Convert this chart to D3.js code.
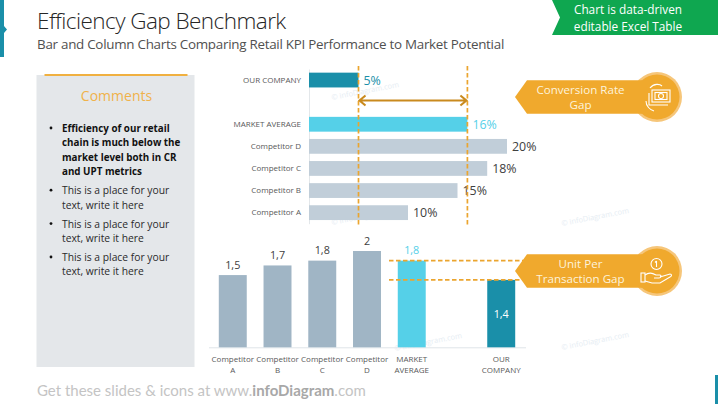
<!DOCTYPE html>
<html>
<head>
<meta charset="utf-8">
<script src="https://cdn.jsdelivr.net/npm/d3@7"></script>
<style>
  html, body { margin: 0; padding: 0; background: #fff; }
  svg { display: block; }
  text { font-family: "Open Sans", sans-serif; }
</style>
</head>
<body>
<div id="chart"></div>
<script>
// conversion rate chart
const crCategories = ["OUR COMPANY", "MARKET AVERAGE", "Competitor D", "Competitor C", "Competitor B", "Competitor A"];
const crValues = [5, 16, 20, 18, 15, 10];

// units per transaction chart
const uptCategories = ["Competitor A", "Competitor B", "Competitor C", "Competitor D", "MARKET AVERAGE", "OUR COMPANY"];
const uptValues = [1.5, 1.7, 1.8, 2, 1.8, 1.4];

const commentItems = [
    {bold: true, lines: ["Efficiency of our retail", "chain is much below the", "market level both in CR", "and UPT metrics"]},
    {bold: false, lines: ["This is a place for your", "text, write it here"]},
    {bold: false, lines: ["This is a place for your", "text, write it here"]},
    {bold: false, lines: ["This is a place for your", "text, write it here"]}
];

const TEAL = "#1a8fa9", CYAN = "#55d0e8", ORANGE = "#f0a92d", DASH = "#eba52f";
const GAP = "__gap";

function barColor(name, other) {
    if (name === "OUR COMPANY") return TEAL;
    if (name === "MARKET AVERAGE") return CYAN;
    return other;
}

const svg = d3.select("#chart").append("svg")
    .attr("width", 718)
    .attr("height", 404);

// slide furniture
svg.append("path").attr("d", "M0,0H4V26L7,29.5L4,33V57H0Z").attr("fill", "#1a8fa9");
svg.append("rect").attr("x", 715).attr("y", 375).attr("width", 3).attr("height", 29).attr("fill", TEAL);

svg.append("text").attr("x", 37).attr("y", 28.5)
    .attr("font-size", 22.5).attr("font-weight", 300).attr("fill", "#262626")
    .attr("letter-spacing", -0.55)
    .text("Efficiency Gap Benchmark");
svg.append("text").attr("x", 37).attr("y", 48.5)
    .attr("font-size", 13.4).attr("fill", "#505050")
    .attr("letter-spacing", -0.27)
    .text("Bar and Column Charts Comparing Retail KPI Performance to Market Potential");

svg.append("path").attr("d", "M552,0H718V35H552L560,17.5Z").attr("fill", "#0fa750");
svg.append("text").attr("x", 628).attr("y", 14).attr("text-anchor", "middle")
    .attr("font-size", 11.8).attr("fill", "#fff").text("Chart is data-driven");
svg.append("text").attr("x", 628).attr("y", 30.5).attr("text-anchor", "middle")
    .attr("font-size", 11.8).attr("fill", "#fff").text("editable Excel Table");

// watermarks
[[332, 100], [332, 225], [562, 226], [395, 351], [562, 350]].forEach(p => {
    svg.append("text")
        .attr("transform", `translate(${p[0]},${p[1]}) rotate(-11)`)
        .attr("font-size", 7.5).attr("fill", "#e6edf3")
        .text("© infoDiagram.com");
});

// comments panel
svg.append("rect").attr("x", 36.5).attr("y", 75).attr("width", 158).attr("height", 292).attr("fill", "#e4e7ea");
svg.append("rect").attr("x", 44.5).attr("y", 74).attr("width", 143).attr("height", 2).attr("fill", "#f0b040");
svg.append("text").attr("x", 116.5).attr("y", 101).attr("text-anchor", "middle")
    .attr("font-size", 14).attr("fill", "#f0b24a").text("Comments");

let lineY = 132;
commentItems.forEach(item => {
    svg.append("circle").attr("cx", 51).attr("cy", lineY - 4).attr("r", 1.4).attr("fill", "#111");
    item.lines.forEach(l => {
        svg.append("text").attr("x", 62).attr("y", lineY)
            .attr("font-size", item.bold ? 9.8 : 10.3).attr("font-weight", item.bold ? 700 : 400)
            .attr("fill", item.bold ? "#111" : "#2a2a2a")
            .text(l);
        lineY += 14.4;
    });
    lineY += 4.6;
});

// horizontal bars
const crX = d3.scaleLinear().domain([0, 20]).range([309, 507]);
const crDomain = [crCategories[0], GAP].concat(crCategories.slice(1));
const crY = d3.scaleBand().domain(crDomain).range([69, 223.7]).paddingInner(0.33).paddingOuter(0.165);

const crAxis = svg.append("g")
    .attr("transform", "translate(309,0)")
    .call(d3.axisLeft(crY).tickSize(0).tickPadding(8).tickFormat(d => d === GAP ? "" : d));
crAxis.select(".domain").attr("stroke", "#e3e7ea");
crAxis.selectAll("text").attr("font-size", 8).attr("fill", "#595959").attr("font-family", '"Open Sans", sans-serif');

svg.append("g").selectAll("rect")
    .data(crCategories)
    .join("rect")
    .attr("x", crX(0))
    .attr("y", d => crY(d))
    .attr("width", (d, i) => crX(crValues[i]) - crX(0))
    .attr("height", crY.bandwidth())
    .attr("fill", d => barColor(d, "#c1ced9"));

svg.append("g").selectAll("text")
    .data(crCategories)
    .join("text")
    .attr("x", (d, i) => crX(crValues[i]) + 5)
    .attr("y", d => crY(d) + crY.bandwidth() / 2 + 4.5)
    .attr("font-size", 12.4)
    .attr("fill", d => barColor(d, "#404040"))
    .text((d, i) => crValues[i] + "%");

// gap markers on the bars
const ourCr = crValues[crCategories.indexOf("OUR COMPANY")];
const marketCr = crValues[crCategories.indexOf("MARKET AVERAGE")];
[ourCr, marketCr].forEach(v => {
    svg.append("line")
        .attr("x1", crX(v)).attr("x2", crX(v))
        .attr("y1", 66).attr("y2", 227)
        .attr("stroke", DASH).attr("stroke-width", 1.7).attr("stroke-dasharray", "4.5,2.5");
});
const arrowY = 100.5;
svg.append("path")
    .attr("d", `M${crX(ourCr) + 1},${arrowY}H${crX(marketCr) - 1}`
        + `M${crX(ourCr) + 7},${arrowY - 5}L${crX(ourCr) + 1},${arrowY}L${crX(ourCr) + 7},${arrowY + 5}`
        + `M${crX(marketCr) - 7},${arrowY - 5}L${crX(marketCr) - 1},${arrowY}L${crX(marketCr) - 7},${arrowY + 5}`)
    .attr("fill", "none").attr("stroke", "#c98a1e").attr("stroke-width", 2.1);

// columns
const uptDomain = uptCategories.slice(0, 5).concat([GAP, uptCategories[5]]);
const uptX = d3.scaleBand().domain(uptDomain).range([208.5, 525.5]).paddingInner(0.375).paddingOuter(0.23);
const uptY = d3.scaleLinear().domain([0, 2]).range([347.3, 251]);
const commaFormat = v => String(v).replace(".", ",");

const uptAxis = svg.append("g")
    .attr("transform", "translate(0,347.3)")
    .call(d3.axisBottom(uptX).tickSize(0).tickFormat(""));
uptAxis.select(".domain").attr("stroke", "#dfe4e8");
uptAxis.selectAll(".tick").each(function(d) {
    if (d === GAP) return;
    const words = d.split(" ");
    const t = d3.select(this).append("text")
        .attr("text-anchor", "middle")
        .attr("font-size", 8)
        .attr("fill", "#595959");
    words.forEach((w, i) => {
        t.append("tspan").attr("x", 0).attr("y", 14.7 + i * 10.8).text(w);
    });
});

svg.append("g").selectAll("rect")
    .data(uptCategories)
    .join("rect")
    .attr("x", d => uptX(d))
    .attr("y", (d, i) => uptY(uptValues[i]))
    .attr("width", uptX.bandwidth())
    .attr("height", (d, i) => uptY(0) - uptY(uptValues[i]))
    .attr("fill", d => barColor(d, "#a0b5c5"));

svg.append("g").selectAll("text")
    .data(uptCategories)
    .join("text")
    .attr("x", d => uptX(d) + uptX.bandwidth() / 2)
    .attr("y", (d, i) => d === "OUR COMPANY" ? 318 : uptY(uptValues[i]) - 6.5)
    .attr("text-anchor", "middle")
    .attr("font-size", 10.8)
    .attr("fill", d => d === "OUR COMPANY" ? "#fff" : barColor(d, "#404040"))
    .text((d, i) => commaFormat(uptValues[i]));

const ourUpt = uptValues[uptCategories.indexOf("OUR COMPANY")];
const marketUpt = uptValues[uptCategories.indexOf("MARKET AVERAGE")];
[ourUpt, marketUpt].forEach(v => {
    svg.append("line")
        .attr("x1", 389).attr("x2", 524)
        .attr("y1", uptY(v)).attr("y2", uptY(v))
        .attr("stroke", DASH).attr("stroke-width", 1.7).attr("stroke-dasharray", "4.5,2.5");
});

// callouts
function callout(cy, lines) {
    const g = svg.append("g").attr("transform", `translate(0,${cy})`);
    g.append("circle").attr("cx", 657).attr("r", 25).attr("fill", "#f6c67a");
    g.append("circle").attr("cx", 657).attr("r", 22.5).attr("fill", ORANGE);
    g.append("path").attr("d", "M515,0L527,-16.8H642V16.8H527Z").attr("fill", ORANGE);
    lines.forEach((l, i) => {
        g.append("text").attr("x", 580.5).attr("y", (lines.length === 2 ? -3 : 4) + i * 15)
            .attr("text-anchor", "middle").attr("font-size", 11.6).attr("fill", "#fdf3dc").text(l);
    });
    return g;
}

const crCall = callout(97, ["Conversion Rate", "Gap"]);
const uptCall = callout(271, ["Unit Per", "Transaction Gap"]);

// money icon
const money = crCall.append("g").attr("transform", "translate(660,0)")
    .attr("fill", "none").attr("stroke", "#fff").attr("stroke-width", 1.1);
money.append("rect").attr("x", -8).attr("y", -7).attr("width", 18).attr("height", 12);
money.append("rect").attr("x", -5).attr("y", -4.5).attr("width", 12).attr("height", 7);
money.append("circle").attr("cx", 1).attr("cy", -1).attr("r", 2.5);
money.append("path").attr("d", "M-11,-4V8H8");
money.append("path").attr("d", "M-10,-9C-6,-14 0,-13 2,-11M-14,4C-14,9 -10,13 -6,14");

// hand and coin icon
const hand = uptCall.append("g").attr("transform", "translate(657,0)")
    .attr("fill", "none").attr("stroke", "#fff").attr("stroke-width", 1.1);
hand.append("circle").attr("cx", -0.5).attr("cy", -7).attr("r", 5.5);
hand.append("path").attr("d", "M-0.5,-10V-4M-2,-8.5L-0.5,-10");
hand.append("rect").attr("x", -16).attr("y", 2).attr("width", 4).attr("height", 9);
hand.append("path").attr("d", "M-12,4C-8,1 -5,2 -1,4H3C5,5 4,7 2,7H-3M3,6L13,3C15,3 15,5 13,6L3,12H-5L-12,10");

// footer
const footer = svg.append("text").attr("x", 37).attr("y", 396)
    .attr("font-size", 15).attr("fill", "#c4c4c4").style("font-family", "Lato, sans-serif");
footer.append("tspan").text("Get these slides & icons at www.");
footer.append("tspan").attr("font-weight", 700).attr("fill", "#a8a8a8").text("infoDiagram");
footer.append("tspan").text(".com");
</script>
</body>
</html>
